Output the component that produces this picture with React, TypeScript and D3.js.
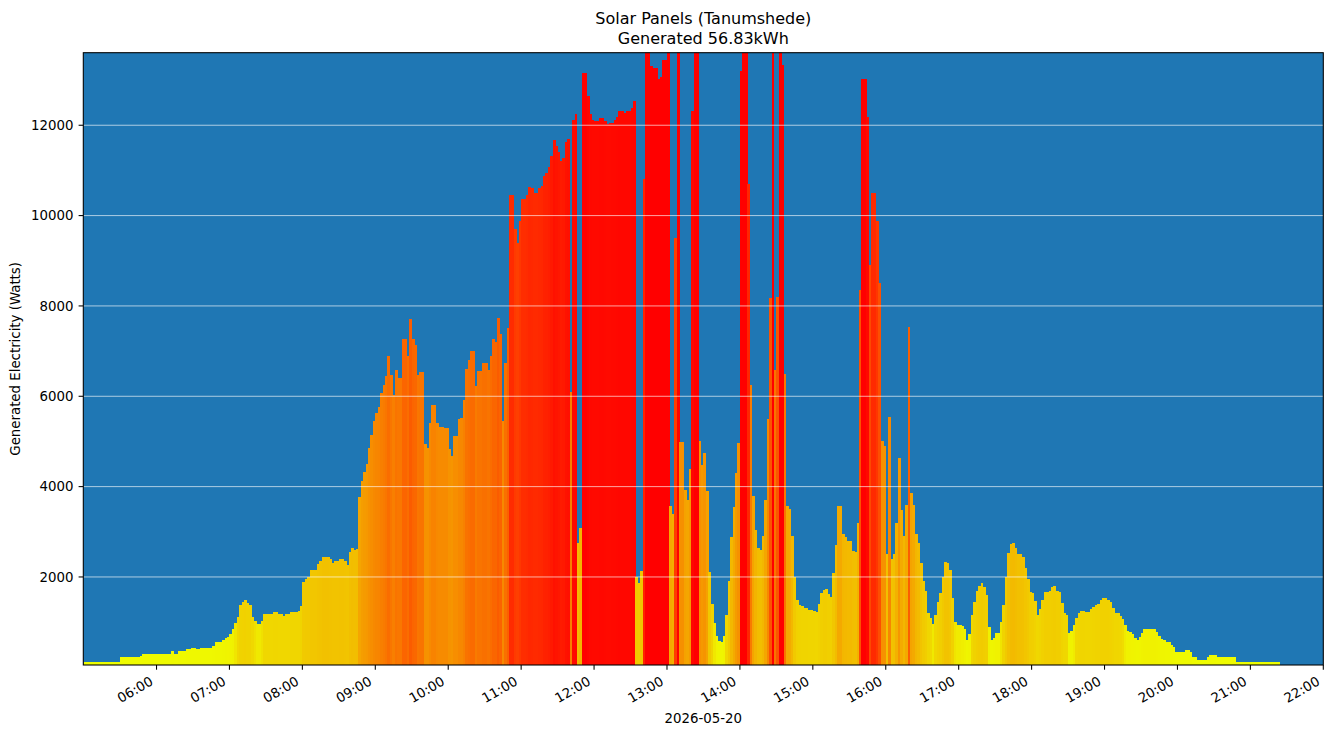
import React from "react";
import * as d3 from "d3";

// Generated power (W), 2-minute readings, one array per hour of the day
const h05 = [120,120,120,120,120,120,120,120,120,120,120,120,120,120,120,230,230,230,230,230,230,230,230,250,300,300,300,300,300,300];
const h06 = [300,300,300,300,300,300,360,300,300,360,360,360,405,405,427,427,405,405,427,427,427,427,427,470,560,560,560,600,640,680];
const h07 = [740,850,980,1110,1380,1450,1490,1420,1380,1110,1030,960,960,1025,1180,1180,1180,1170,1230,1230,1180,1180,1140,1180,1180,1220,1220,1220,1240,1350];
const h08 = [1890,1960,2000,2150,2150,2150,2290,2350,2440,2440,2440,2400,2310,2350,2350,2400,2400,2350,2270,2550,2640,2590,2620,3780,4120,4320,4490,4850,5140,5450];
const h09 = [5630,5760,6070,6250,6450,6890,6470,6030,6580,6400,6400,7260,7260,6900,7710,7260,7130,6470,6540,6540,4950,4850,5400,5800,5800,5410,5320,5320,5300,5300];
const h10 = [4830,4680,5120,5120,5500,5520,5920,6600,6800,7000,7000,6230,6560,6560,6740,6740,6580,6890,7260,7200,7730,7370,5450,6740,7520,10450,10450,9700,9400,9880];
const h11 = [10360,10360,10450,10640,10600,10490,10500,10600,10650,10880,10950,11080,11320,11670,11550,11410,11210,11280,11630,11700,6100,12110,12260,2760,3080,13150,13150,12650,12250,12110];
const h12 = [12090,12090,12160,12160,12100,12020,12040,12060,12110,12190,12320,12320,12280,12310,12310,12390,12540,2000,1860,2140,10820,14500,14500,13320,13270,13270,13030,13070,13440,13440];
const h13 = [14500,3580,3400,9510,14500,4980,4980,3920,3700,4400,12310,14500,14500,5000,4480,4740,3900,2100,1400,970,700,585,550,700,1150,1900,2890,3550,4300,4960];
const h14 = [13190,14500,14500,10690,6250,3800,3040,2650,2600,2900,3700,5500,8180,14500,6580,8200,14500,13330,6490,3570,3500,2900,2000,1480,1380,1350,1310,1310,1270,1270];
const h15 = [1250,1220,1410,1650,1720,1730,1630,1550,2080,2700,3570,3570,2950,2880,2800,2800,2580,2550,3200,8360,13020,13020,12190,8910,10510,10510,9890,8500,5010,4890];
const h16 = [2500,5550,2400,2500,3200,4630,3480,2900,3600,7530,3850,3600,2950,2750,2300,1900,1690,1200,1090,960,1150,1450,1640,2000,2340,2320,2150,1530,1000,940];
const h17 = [940,920,850,600,740,1150,1440,1680,1800,1860,1770,1600,900,600,640,760,760,1000,1380,2000,2520,2720,2760,2650,2500,2500,2450,2190,1950,1660];
const h18 = [1640,1470,1150,1300,1490,1660,1660,1690,1770,1790,1700,1670,1420,1210,1150,760,800,940,1100,1210,1250,1250,1220,1220,1290,1340,1380,1410,1480,1530];
const h19 = [1530,1490,1450,1310,1200,1200,1140,1070,940,810,775,730,640,600,680,770,840,840,840,840,840,790,700,630,605,570,570,494,443,347];
const h20 = [347,347,347,384,384,347,229,229,162,162,162,162,229,273,273,273,229,229,229,229,229,229,229,229,111,111,111,111,111,111];
const h21 = [111,111,111,111,111,111,111,111,111,111,111,111];

const hourArrays = [h05,h06,h07,h08,h09,h10,h11,h12,h13,h14,h15,h16,h17,h18,h19,h20,h21];
const firstHour = 5;
const stepMinutes = 2;

const yTicks = [2000, 4000, 6000, 8000, 10000, 12000];
const xTickHours = [6,7,8,9,10,11,12,13,14,15,16,17,18,19,20,21,22];

const colorStops = [0, 900, 1100, 2500, 4000, 6000, 7500, 10000, 12000, 13000];
const colorRange = ["#eeff00","#f0f000","#f0d800","#f2c000","#f5a000","#f88000","#fb6000","#ff3500","#ff0a00","#ff0000"];

const titleLines = ["Solar Panels (Tanumshede)", "Generated 56.83kWh"];
const yLabel = "Generated Electricity (Watts)";
const xLabel = "2026-05-20";

const day = (h: number, m = 0) => new Date(2026, 4, 20, h, m);

export default function App() {
  const W = 1333, H = 736;
  const left = 83.3, right = 1323.3, top = 52.7, bottom = 665;
  const font = "'DejaVu Sans', sans-serif";

  const x = d3.scaleTime().domain([day(5), day(22)]).range([83.6, right]);
  const y = d3.scaleLinear().domain([51, 13606]).range([bottom, top]);
  const color = d3.scaleLinear<string>().domain(colorStops).range(colorRange).clamp(true);

  const series = hourArrays.flatMap((arr, i) =>
    arr.map((v, j) => ({ t: day(firstHour + i, j * stepMinutes), t2: day(firstHour + i, (j + 1) * stepMinutes), v }))
  );
  const fmt = d3.timeFormat("%H:%M");

  return (
    <svg width={W} height={H} style={{ position: "absolute", left: 0, top: 0, display: "block", background: "white" }} fontFamily={font}>
      <defs>
        <clipPath id="plot">
          <rect x={left} y={top} width={right - left} height={bottom - top} />
        </clipPath>
      </defs>
      <rect x={left} y={top} width={right - left} height={bottom - top} fill="#1f77b4" />
      <g clipPath="url(#plot)" shapeRendering="crispEdges">
        {series.map((d, i) => {
          const x0 = x(d.t);
          const x1 = x(d.t2);
          const yt = y(d.v);
          return <rect key={i} x={x0} y={yt} width={x1 - x0 + 0.4} height={bottom + 5 - yt} fill={color(d.v)} />;
        })}
      </g>
      <g>
        {yTicks.map((t) => (
          <line key={t} x1={left} x2={right} y1={y(t)} y2={y(t)} stroke="white" strokeOpacity={0.8} strokeWidth={0.8} />
        ))}
      </g>
      <rect x={left} y={top} width={right - left} height={bottom - top} fill="none" stroke="black" strokeWidth={1.07} />
      {yTicks.map((t) => (
        <g key={t}>
          <line x1={left - 4.7} x2={left} y1={y(t)} y2={y(t)} stroke="black" strokeWidth={1.07} />
          <text x={73.5} y={y(t)} dy="0.36em" textAnchor="end" fontSize={13.33} fill="#000">{t}</text>
        </g>
      ))}
      {xTickHours.map((h) => {
        const xx = x(day(h));
        return (
          <g key={h}>
            <line x1={xx} x2={xx} y1={bottom} y2={bottom + 4.7} stroke="black" strokeWidth={1.07} />
            <text transform={`translate(${xx - 2.5},${684}) rotate(-30)`} textAnchor="end" fontSize={13.33} fill="#000">
              {fmt(day(h === 22 ? 22 : h))}
            </text>
          </g>
        );
      })}
      <text x={703.3} y={723} textAnchor="middle" fontSize={13.33} fill="#000">{xLabel}</text>
      <text transform={`translate(19.7,${(top + bottom) / 2}) rotate(-90)`} textAnchor="middle" fontSize={13.33} fill="#000">{yLabel}</text>
      {titleLines.map((s, i) => (
        <text key={i} x={703.3} y={24 + i * 20.3} textAnchor="middle" fontSize={16} fill="#000">{s}</text>
      ))}
    </svg>
  );
}
